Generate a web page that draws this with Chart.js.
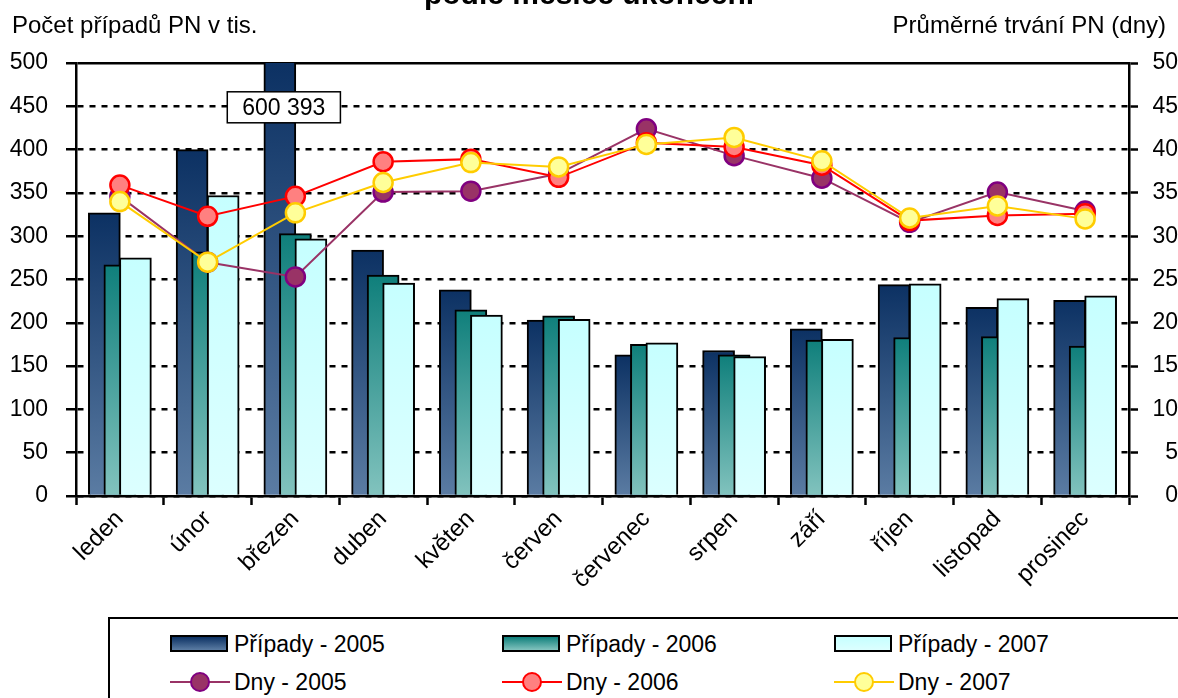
<!DOCTYPE html>
<html>
<head>
<meta charset="utf-8">
<script src="https://cdn.jsdelivr.net/npm/chart.js@4/dist/chart.umd.min.js"></script>
<style>
body { margin: 0; background: #fff; font-family: "Liberation Sans Narrow", "Arial Narrow", "Liberation Sans", Arial, sans-serif; }
#wrap { position: relative; width: 1178px; height: 698px; overflow: hidden; }
#title { position: absolute; left: 0; width: 1178px; top: -23px; line-height: 30px; text-align: center; font: bold 30px "Liberation Sans", Arial, sans-serif; }
.axisTitle { position: absolute; top: 11px; font-size: 24px; }
#legend { position: absolute; left: 108px; top: 617px; width: 1100px; height: 100px; border: 2px solid #000; box-sizing: border-box; }
.item { position: absolute; font-size: 23px; line-height: 26px; }
.box { position: absolute; left: 0; top: 4px; width: 58px; height: 17px; border: 2px solid #000; box-sizing: border-box; }
.line { position: absolute; left: 0; top: 12px; width: 60px; height: 2px; }
.dot { position: absolute; left: 20px; top: 3px; width: 20px; height: 20px; border-radius: 50%; box-sizing: border-box; border: 2px solid; }
.item span { position: absolute; left: 64px; top: 0; white-space: nowrap; }
</style>
</head>
<body>
<div id="wrap">
  <div id="title">podle měsíce ukončení</div>
  <div class="axisTitle" style="left:12px">Počet případů PN v tis.</div>
  <div class="axisTitle" style="right:12px">Průměrné trvání PN (dny)</div>
  <canvas id="chart" width="1178" height="612"></canvas>
  <div id="legend"></div>
</div>
<script>
const months = ['leden', 'únor', 'březen', 'duben', 'květen', 'červen',
  'červenec', 'srpen', 'září', 'říjen', 'listopad', 'prosinec'];

// počet případů PN v tis.
const cases2005 = [327, 400, 600.393, 284, 238, 203, 163, 168, 193, 244, 218, 226];
const cases2006 = [267, 282, 303, 255, 215, 208, 175, 163, 180, 183, 184, 173];
const cases2007 = [275, 347, 297, 246, 209, 204, 177, 161, 181, 245, 228, 231];

// průměrné trvání PN (dny)
const days2005 = [34.6, 27.0, 25.3, 35.1, 35.2, 37.2, 42.4, 39.3, 36.7, 31.6, 35.1, 32.9];
const days2006 = [35.9, 32.3, 34.6, 38.6, 38.9, 36.8, 40.8, 40.3, 38.2, 31.8, 32.4, 32.6];
const days2007 = [34.0, 27.0, 32.7, 36.2, 38.5, 38.0, 40.6, 41.4, 38.7, 32.1, 33.5, 32.0];

const leftTicks = [0, 50, 100, 150, 200, 250, 300, 350, 400, 450, 500];
const rightTicks = [0, 5, 10, 15, 20, 25, 30, 35, 40, 45, 50];

const FONT = '"Liberation Sans Narrow", "Arial Narrow", "Liberation Sans", Arial, sans-serif';

const barColors = {
  c2005: ['#0c3163', '#5b7ca3'],
  c2006: ['#0f7f7b', '#82c3be'],
  c2007: ['#c6ffff', '#dcffff']
};

function barGradient(top, bottom) {
  return function (ctx) {
    const chart = ctx.chart;
    if (!chart.chartArea || ctx.type !== 'data') return top;
    const y = chart.scales.y;
    const yTop = y.getPixelForValue(Math.min(ctx.raw.y, y.max));
    const g = chart.ctx.createLinearGradient(0, yTop, 0, y.getPixelForValue(0));
    g.addColorStop(0, top);
    g.addColorStop(1, bottom);
    return g;
  };
}

function points(values) {
  return values.map((v, i) => ({ x: i, y: v }));
}

function formatThousands(v) {
  return String(Math.round(v * 1000)).replace(/\B(?=(\d{3})+(?!\d))/g, ' ');
}

// bars overlap like in Excel, each series sits on its own shifted hidden axis
const shift = 0.177;
function hiddenAxis(s) {
  return { type: 'linear', display: false, offset: false, min: -0.5 + s, max: 11.5 + s };
}

const overflowLabel = {
  id: 'overflowLabel',
  afterDatasetsDraw(chart) {
    const y = chart.scales.y;
    const c = chart.ctx;
    chart.data.datasets.forEach((ds, i) => {
      if (ds.type !== 'bar') return;
      const meta = chart.getDatasetMeta(i);
      meta.data.forEach((bar, j) => {
        const v = ds.data[j].y;
        if (v <= y.max) return;
        const text = formatThousands(v);
        c.save();
        c.font = '23px ' + FONT;
        const w = c.measureText(text).width + 30;
        const h = 31;
        const cx = bar.x + 4;
        const cy = y.getPixelForValue(450) + 1;
        c.fillStyle = '#fff';
        c.fillRect(cx - w / 2, cy - h / 2, w, h);
        c.strokeStyle = '#000';
        c.lineWidth = 1.5;
        c.strokeRect(cx - w / 2, cy - h / 2, w, h);
        c.fillStyle = '#000';
        c.textAlign = 'center';
        c.textBaseline = 'middle';
        c.fillText(text, cx, cy + 1);
        c.restore();
      });
    });
  }
};

const barSeries = [
  { label: 'Případy - 2005', data: cases2005, colors: barColors.c2005, axis: 'xa', order: 3 },
  { label: 'Případy - 2006', data: cases2006, colors: barColors.c2006, axis: 'xb', order: 2 },
  { label: 'Případy - 2007', data: cases2007, colors: barColors.c2007, axis: 'xc', order: 1 }
];

const lineSeries = [
  { label: 'Dny - 2005', data: days2005, line: '#993366', fill: '#993366', edge: '#800080', order: -1 },
  { label: 'Dny - 2006', data: days2006, line: '#ff0000', fill: '#ff8080', edge: '#ff0000', order: -2 },
  { label: 'Dny - 2007', data: days2007, line: '#ffcc00', fill: '#ffff99', edge: '#ffcc00', order: -3 }
];

const datasets = [];
barSeries.forEach(s => {
  datasets.push({
    type: 'bar',
    label: s.label,
    data: points(s.data),
    xAxisID: s.axis,
    yAxisID: 'y',
    grouped: false,
    barThickness: 32,
    backgroundColor: barGradient(s.colors[0], s.colors[1]),
    borderColor: '#000',
    borderWidth: 2,
    order: s.order
  });
});
lineSeries.forEach(s => {
  datasets.push({
    type: 'line',
    label: s.label,
    data: s.data,
    xAxisID: 'x',
    yAxisID: 'y1',
    borderColor: s.line,
    borderWidth: 2,
    pointRadius: 9.5,
    pointBorderWidth: 2.5,
    pointBackgroundColor: s.fill,
    pointBorderColor: s.edge,
    tension: 0,
    order: s.order
  });
});

new Chart(document.getElementById('chart'), {
  type: 'bar',
  data: { labels: months, datasets: datasets },
  options: {
    responsive: false,
    animation: false,
    layout: { padding: { top: 63, left: 0, right: 0, bottom: 0 } },
    plugins: { legend: { display: false }, tooltip: { enabled: false } },
    scales: {
      x: {
        type: 'category',
        offset: true,
        grid: { offset: true, drawOnChartArea: false, drawTicks: true, tickLength: 9, tickColor: '#000', tickWidth: 2.5 },
        border: { color: '#000', width: 2.5 },
        ticks: { color: '#000', font: { family: FONT, size: 24 }, minRotation: 45, maxRotation: 45, padding: 0, autoSkip: false },
        afterFit(scale) { scale.height = 116; }
      },
      xa: hiddenAxis(shift),
      xb: hiddenAxis(0),
      xc: hiddenAxis(-shift),
      y: {
        position: 'left',
        min: 0,
        max: 500,
        afterBuildTicks(scale) { scale.ticks = leftTicks.map(v => ({ value: v })); },
        grid: {
          color: '#000',
          lineWidth: 2.5,
          tickLength: 10,
          tickColor: '#000',
          tickWidth: 2.5
        },
        border: {
          color: '#000',
          width: 2.5,
          dash: ctx => (ctx.tick && ctx.tick.value === 500) ? [] : [6, 6]
        },
        ticks: { color: '#000', font: { family: FONT, size: 23 }, padding: 18 },
        afterFit(scale) { scale.width = 76; }
      },
      y1: {
        position: 'right',
        min: 0,
        max: 50,
        afterBuildTicks(scale) { scale.ticks = rightTicks.map(v => ({ value: v })); },
        grid: { drawOnChartArea: false, tickLength: 9, tickColor: '#000', tickWidth: 2.5 },
        border: { color: '#000', width: 2.5 },
        ticks: { color: '#000', font: { family: FONT, size: 23 }, padding: 0, crossAlign: 'far' },
        afterFit(scale) { scale.width = 49; }
      }
    }
  },
  plugins: [overflowLabel]
});

// legend
const legend = document.getElementById('legend');
const cols = [60, 392, 724];
barSeries.forEach((s, i) => {
  const d = document.createElement('div');
  d.className = 'item';
  d.style.left = cols[i] + 'px';
  d.style.top = '12px';
  d.innerHTML = '<div class="box" style="background:linear-gradient(' + s.colors[0] + ',' + s.colors[1] + ')"></div><span>' + s.label + '</span>';
  legend.appendChild(d);
});
lineSeries.forEach((s, i) => {
  const d = document.createElement('div');
  d.className = 'item';
  d.style.left = cols[i] + 'px';
  d.style.top = '50px';
  d.innerHTML = '<div class="line" style="background:' + s.line + '"></div>' +
    '<div class="dot" style="background:' + s.fill + ';border-color:' + s.edge + '"></div><span>' + s.label + '</span>';
  legend.appendChild(d);
});
</script>
</body>
</html>
